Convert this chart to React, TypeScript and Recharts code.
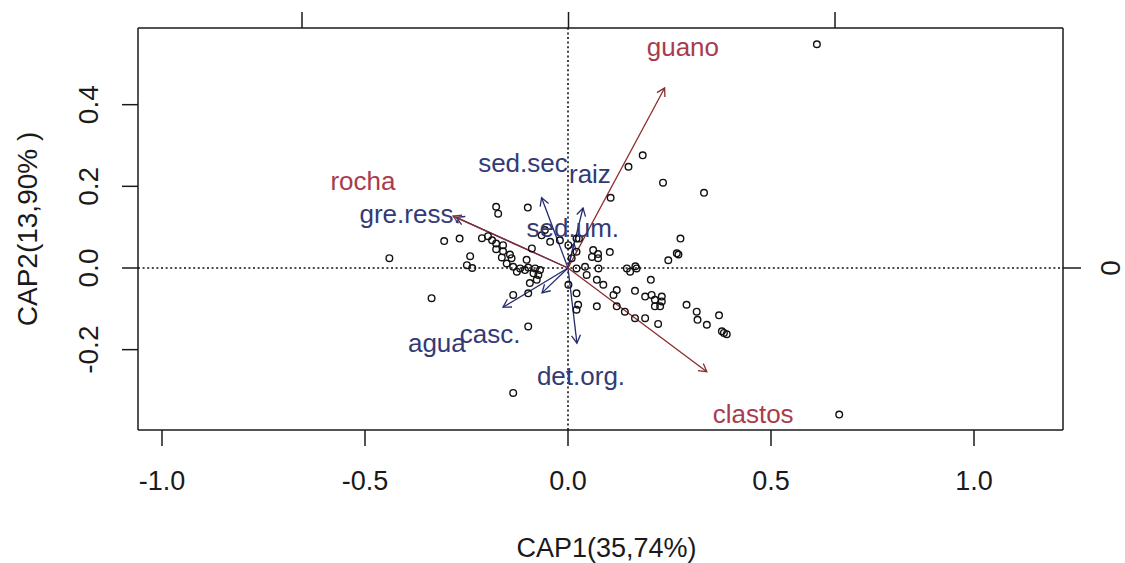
import React from 'react';
import { ScatterChart, Scatter, XAxis, YAxis, ReferenceLine } from 'recharts';

const FONT = '"Liberation Sans", Arial, Helvetica, sans-serif';

// axis ticks
const xTicks = [-1, -0.5, 0, 0.5, 1];
const yTicks = [-0.2, 0, 0.2, 0.4];
const topTicks = [-1, 0, 1];
const rightTicks = [0];

// site scores (CAP1, CAP2)
const siteCAP1 = [
  0.613, 0.184, 0.149, 0.234, 0.335, 0.105, 0.277, 0.268, 0.272, 0.247,
  0.062, 0.074, 0.103, 0.059, 0.074, 0.166, 0.027, -0.44, -0.305, -0.267,
  -0.177, -0.172, -0.099, -0.212, -0.197, -0.187, -0.177, -0.16, -0.177, -0.16,
  -0.143, -0.163, -0.139, -0.089, -0.241, -0.249, -0.236, -0.151, -0.135, -0.118,
  -0.106, -0.098, -0.081, -0.069, -0.073, -0.085, -0.126, -0.077, -0.094, -0.135,
  -0.098, -0.057, -0.044, -0.02, 0.001, 0.021, 0.021, 0.009, -0.065, -0.102,
  -0.336, -0.098, -0.135, 0.042, 0.075, 0.046, 0.071, 0.087, 0.001, 0.021,
  0.025, 0.021, 0.071, 0.12, 0.112, 0.145, 0.12, 0.14, 0.153, 0.169,
  0.204, 0.165, 0.19, 0.206, 0.231, 0.214, 0.231, 0.214, 0.227, 0.165,
  0.19, 0.222, 0.292, 0.317, 0.319, 0.342, 0.372, 0.379, 0.391, 0.668,
  0.021, 0.384,
];
const siteCAP2 = [
  0.548, 0.276, 0.248, 0.209, 0.184, 0.172, 0.072, 0.036, 0.033, 0.019,
  0.044, 0.034, 0.039, 0.027, 0.024, 0.004, 0.072, 0.024, 0.066, 0.072,
  0.15, 0.133, 0.148, 0.073, 0.078, 0.068, 0.06, 0.056, 0.046, 0.041,
  0.033, 0.026, 0.024, 0.048, 0.029, 0.007, 0.0, 0.011, 0.003, -0.001,
  -0.005, 0.001, -0.001, -0.005, -0.017, -0.013, -0.009, -0.029, -0.037, -0.066,
  -0.062, 0.093, 0.064, 0.068, 0.056, 0.072, 0.04, 0.024, 0.08, 0.02,
  -0.074, -0.143, -0.306, 0.003, -0.001, -0.017, -0.029, -0.041, -0.041, -0.062,
  -0.09, -0.102, -0.094, -0.054, -0.066, -0.001, -0.094, -0.107, -0.009, -0.001,
  -0.029, -0.056, -0.07, -0.066, -0.07, -0.078, -0.082, -0.094, -0.094, -0.123,
  -0.123, -0.137, -0.09, -0.107, -0.127, -0.139, -0.116, -0.155, -0.162, -0.359,
  -0.001, -0.159,
];

// environmental vectors (arrow tips); blue drawn first, red on top
const envNames = ['gre.ress.', 'sed.sec.', 'raiz', 'sed.um.', 'agua', 'casc.', 'det.org.', 'guano', 'clastos', 'rocha'];
const envCAP1 = [-0.275, -0.065, 0.037, 0.015, -0.16, -0.064, 0.022, 0.238, 0.342, -0.283];
const envCAP2 = [0.124, 0.172, 0.147, 0.06, -0.096, -0.061, -0.184, 0.441, -0.254, 0.127];
const envKind = ['blue', 'blue', 'blue', 'blue', 'blue', 'blue', 'blue', 'red', 'red', 'red'];

// label anchor positions (text centre, baseline)
const labelText = ['guano', 'rocha', 'sed.sec', 'raiz', 'gre.ress.', 'sed.um.', 'agua', 'casc.', 'det.org.', 'clastos'];
const labelCAP1 = [0.283, -0.505, -0.111, 0.054, -0.389, 0.012, -0.323, -0.192, 0.032, 0.456];
const labelCAP2 = [0.519, 0.191, 0.235, 0.208, 0.11, 0.076, -0.206, -0.184, -0.287, -0.38];
const labelKind = ['red', 'red', 'blue', 'blue', 'blue', 'blue', 'blue', 'blue', 'blue', 'red'];

const COLORS: Record<string, { text: string; arrow: string }> = {
  red: { text: '#a83c4c', arrow: '#8e2b2b' },
  blue: { text: '#333a75', arrow: '#252b6e' },
};

const sites = siteCAP1.map((x, i) => ({ x, y: siteCAP2[i] }));
const labels = labelText.map((name, i) => ({ x: labelCAP1[i], y: labelCAP2[i], name, kind: labelKind[i] }));
const dummy = [{ x: 0, y: 0 }];

const fmt = (v: number) => v.toFixed(1);

const XTick = (p: any) => (
  <text x={p.x} y={p.y} dy={42} textAnchor="middle" fontSize={27} fontFamily={FONT} fill="#1a1a1a">
    {fmt(p.payload.value)}
  </text>
);

const YTick = (p: any) => {
  const bx = p.x - 22;
  return (
    <text x={bx} y={p.y} transform={`rotate(-90, ${bx}, ${p.y})`} textAnchor="middle" fontSize={28} fontFamily={FONT} fill="#1a1a1a">
      {fmt(p.payload.value)}
    </text>
  );
};

const RTick = (p: any) => {
  const bx = p.x + 37;
  return (
    <text x={bx} y={p.y} transform={`rotate(-90, ${bx}, ${p.y})`} textAnchor="middle" fontSize={28} fontFamily={FONT} fill="#1a1a1a">
      {String(p.payload.value)}
    </text>
  );
};

const NoTick = () => <g />;

const makeArrow = (color: string) => (p: any) => {
  const { x1, y1, x2, y2 } = p;
  const ang = Math.atan2(y2 - y1, x2 - x1);
  const L = 9;
  const a = Math.PI / 6;
  const hx1 = x2 - L * Math.cos(ang - a);
  const hy1 = y2 - L * Math.sin(ang - a);
  const hx2 = x2 - L * Math.cos(ang + a);
  const hy2 = y2 - L * Math.sin(ang + a);
  return (
    <g>
      <line x1={x1} y1={y1} x2={x2} y2={y2} stroke={color} strokeWidth={1.3} />
      <polyline points={`${hx1},${hy1} ${x2},${y2} ${hx2},${hy2}`} fill="none" stroke={color} strokeWidth={1.3} />
    </g>
  );
};

const SitePoint = (p: any) => (
  <circle cx={p.cx} cy={p.cy} r={3.3} fill="none" stroke="#111" strokeWidth={1.4} />
);

const LabelText = (p: any) => (
  <text x={p.cx} y={p.cy} textAnchor="middle" fontSize={26} fontFamily={FONT} fill={COLORS[p.payload.kind].text}>
    {p.payload.name}
  </text>
);

const axisStroke = { stroke: '#1a1a1a', strokeWidth: 1.5 };

export default function App() {
  return (
    <div style={{ position: 'fixed', left: 0, top: 0, width: 1125, height: 563, background: '#fff' }}>
      <ScatterChart width={1125} height={563} margin={{ top: 8, right: 0, bottom: 3, left: 0 }}>
        <XAxis
          xAxisId={0}
          type="number"
          dataKey="x"
          domain={[-1.0591, 1.2192]}
          ticks={xTicks}
          allowDataOverflow
          height={130}
          tickSize={16}
          axisLine={axisStroke}
          tickLine={axisStroke}
          tick={XTick}
          interval={0}
          label={{
            value: 'CAP1(35,74%)',
            position: 'insideBottom',
            offset: 3,
            dx: 6,
            style: { fontSize: 27, fontFamily: FONT, fill: '#1a1a1a' },
          }}
        />
        <XAxis
          xAxisId="top"
          orientation="top"
          type="number"
          dataKey="x"
          domain={[-1.6154, 1.8555]}
          ticks={topTicks}
          allowDataOverflow
          height={20}
          tickSize={16}
          axisLine={axisStroke}
          tickLine={axisStroke}
          tick={NoTick}
          interval={0}
        />
        <YAxis
          yAxisId={0}
          type="number"
          dataKey="y"
          domain={[-0.3968, 0.5878]}
          ticks={yTicks}
          allowDataOverflow
          width={138}
          tickSize={16}
          axisLine={axisStroke}
          tickLine={axisStroke}
          tick={YTick}
          interval={0}
          label={{
            value: 'CAP2(13,90% )',
            angle: -90,
            position: 'insideLeft',
            offset: 27,
            style: { textAnchor: 'middle', fontSize: 28, fontFamily: FONT, fill: '#1a1a1a' },
          }}
        />
        <YAxis
          yAxisId="right"
          orientation="right"
          type="number"
          dataKey="y"
          domain={[-0.6079, 0.9006]}
          ticks={rightTicks}
          allowDataOverflow
          width={62}
          tickSize={18}
          axisLine={axisStroke}
          tickLine={axisStroke}
          tick={RTick}
          interval={0}
        />
        <Scatter
          data={dummy}
          xAxisId="top"
          yAxisId="right"
          shape={() => <g />}
          isAnimationActive={false}
        />
        <ReferenceLine x={0} stroke="#111" strokeWidth={1.6} strokeDasharray="2 2.6" />
        <ReferenceLine y={0} stroke="#111" strokeWidth={1.6} strokeDasharray="2 2.6" />
        {envNames.map((n, i) => (
          <ReferenceLine
            key={n}
            segment={[
              { x: 0, y: 0 },
              { x: envCAP1[i], y: envCAP2[i] },
            ]}
            ifOverflow="visible"
            shape={makeArrow(COLORS[envKind[i]].arrow)}
          />
        ))}
        <Scatter data={sites} shape={SitePoint} isAnimationActive={false} />
        <Scatter data={labels} shape={LabelText} isAnimationActive={false} />
      </ScatterChart>
    </div>
  );
}
